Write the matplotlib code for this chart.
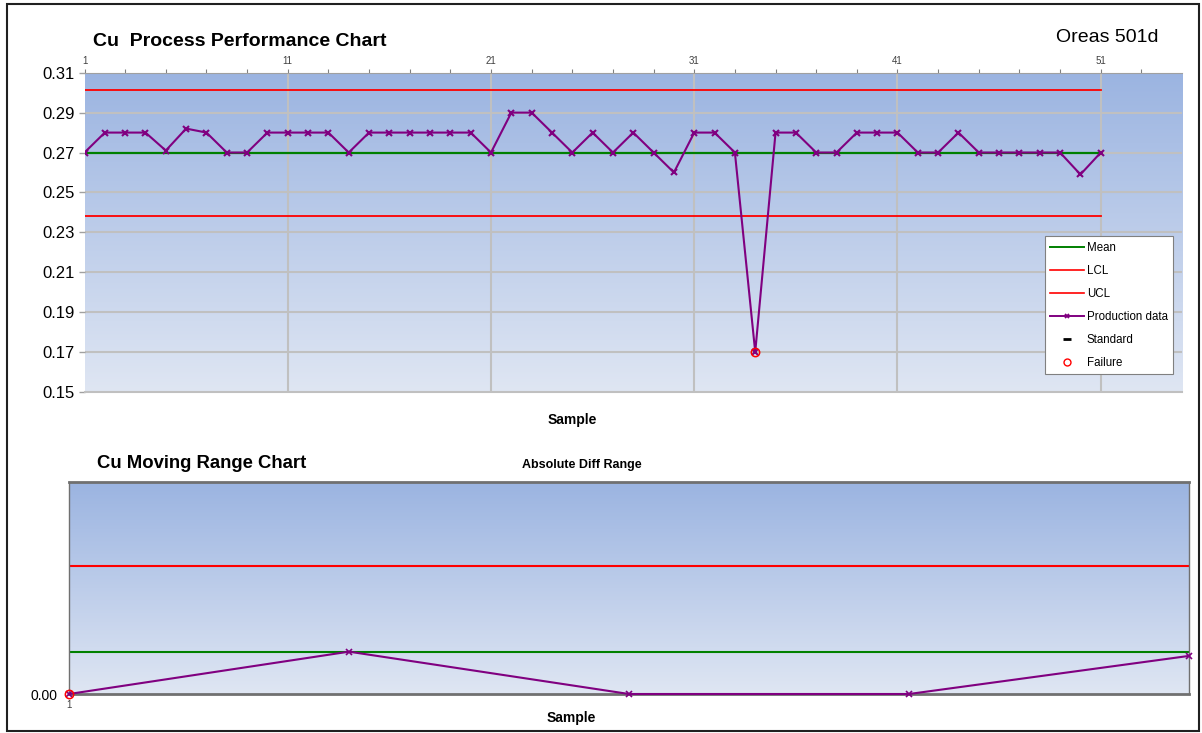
import numpy as np
import matplotlib
matplotlib.use('Agg')
from matplotlib import pyplot as plt
from matplotlib.lines import Line2D
from matplotlib.patches import Rectangle
from matplotlib.colors import LinearSegmentedColormap

plt.rcParams['font.family'] = ['Liberation Sans', 'DejaVu Sans']

# data
samples = np.arange(1, 52)
cu_values = [0.27, 0.28, 0.28, 0.28, 0.271, 0.282, 0.28, 0.27, 0.27, 0.28,
             0.28, 0.28, 0.28, 0.27, 0.28, 0.28, 0.28, 0.28, 0.28, 0.28,
             0.27, 0.29, 0.29, 0.28, 0.27, 0.28, 0.27, 0.28, 0.27, 0.26,
             0.28, 0.28, 0.27, 0.17, 0.28, 0.28, 0.27, 0.27, 0.28, 0.28,
             0.28, 0.27, 0.27, 0.28, 0.27, 0.27, 0.27, 0.27, 0.27, 0.259,
             0.27]
cu_mean = 0.2698
cu_ucl = 0.3012
cu_lcl = 0.2384

mr_samples = [1, 2, 3, 4, 5]
mr_values = [0.0, 0.01, 0.0, 0.0, 0.009]
mr_mean = 0.01
mr_ucl = 0.0302
mr_failures = [1]

top_tick_labels = ['1', '11', '21', '31', '41', '51']

cu_values = np.array(cu_values)
fail_mask = (cu_values < cu_lcl) | (cu_values > cu_ucl)

bg_cmap = LinearSegmentedColormap.from_list('bg', ['#DFE6F3', '#9BB4E1'])
grad = np.linspace(0, 1, 256).reshape(-1, 1)

PURPLE = '#800080'
GRID = '#C0C0C0'

fig = plt.figure(figsize=(12.02, 7.33), dpi=100)

# %% top chart
ax = fig.add_axes([0.0703, 0.4652, 0.9131, 0.4356])
ax.imshow(grad, cmap=bg_cmap, origin='lower', aspect='auto',
          extent=[0, 1, 0, 1], transform=ax.transAxes, zorder=0)
ax.set_xlim(1, 55)
ax.set_ylim(0.15, 0.31)

for yv in np.arange(0.17, 0.30, 0.02):
    ax.axhline(yv, color=GRID, lw=1.5, zorder=1)
for xv in [11, 21, 31, 41, 51]:
    ax.axvline(xv, color=GRID, lw=1.5, zorder=1)

ax.plot([1, 51], [cu_mean, cu_mean], color='#008000', lw=1.6, zorder=2)
ax.plot([1, 51], [cu_lcl, cu_lcl], color='#FF0000', lw=1.3, zorder=2)
ax.plot([1, 51], [cu_ucl, cu_ucl], color='#FF0000', lw=1.3, zorder=2)
ax.plot(samples, cu_values, color=PURPLE, lw=1.5, marker='x', ms=4.5, mew=1.5, zorder=3)
ax.plot(samples[fail_mask], cu_values[fail_mask], 'o', mfc='none', mec='#FF0000',
        ms=6, mew=1.1, zorder=4)

ax.xaxis.tick_top()
xt = np.arange(1, 54, 2)
ax.set_xticks(xt)
ax.set_xticklabels([str(t) if str(t) in top_tick_labels else '' for t in xt])
ax.tick_params(axis='x', direction='out', length=3, width=0.8, color='#808080',
               labelsize=7, labelcolor='#404040', pad=1.5)
ax.set_yticks(np.arange(0.15, 0.3101, 0.02))
ax.set_yticklabels([f'{v:.2f}' for v in np.arange(0.15, 0.3101, 0.02)])
ax.tick_params(axis='y', direction='out', length=4, width=1, color='#A0A0A0',
               labelsize=12, pad=3)
for s in ['left', 'right']:
    ax.spines[s].set_visible(False)
ax.spines['top'].set_color('#A0A0A0')
ax.spines['bottom'].set_color(GRID)
ax.spines['bottom'].set_linewidth(1.5)

handles = [
    Line2D([], [], color='#008000', lw=1.4),
    Line2D([], [], color='#FF0000', lw=1.2),
    Line2D([], [], color='#FF0000', lw=1.2),
    Line2D([], [], color=PURPLE, lw=1.4, marker='x', ms=3.5, mew=1.3),
    Line2D([], [], color='black', ls='none', marker='_', ms=6, mew=2),
    Line2D([], [], color='#FF0000', ls='none', marker='o', mfc='none', ms=5, mew=1),
]
labels = ['Mean', 'LCL', 'UCL', 'Production data', 'Standard', 'Failure']
leg = ax.legend(handles, labels, loc='lower right', bbox_to_anchor=(0.992, 0.055),
                fontsize=8.3, frameon=True, fancybox=False, framealpha=1,
                edgecolor='#808080', handlelength=2.9, handletextpad=0.25,
                labelspacing=0.96, borderpad=0.48, borderaxespad=0)
leg.get_frame().set_linewidth(0.8)

fig.text(93 / 1202, 1 - 41 / 733, 'Cu  Process Performance Chart', fontsize=14,
         fontweight='bold', va='center', ha='left')
fig.text(1158 / 1202, 1 - 37 / 733, 'Oreas 501d', fontsize=14, va='center', ha='right')
fig.text(572 / 1202, 1 - 420 / 733, 'Sample', fontsize=10, fontweight='bold',
         va='center', ha='center')

# %% moving range chart
ax2 = fig.add_axes([0.0574, 0.0532, 0.9318, 0.2888])
ax2.imshow(grad, cmap=bg_cmap, origin='lower', aspect='auto',
           extent=[0, 1, 0, 1], transform=ax2.transAxes, zorder=0)
ax2.set_xlim(1, 5)
ax2.set_ylim(0, 0.05)
ax2.axhline(mr_ucl, color='#FF0000', lw=1.5, zorder=2)
ax2.axhline(mr_mean, color='#008000', lw=1.5, zorder=2)
ax2.plot(mr_samples, mr_values, color=PURPLE, lw=1.5, marker='x', ms=4, mew=1.2,
         zorder=3, clip_on=False)
ax2.plot([mr_samples[i - 1] for i in mr_failures], [mr_values[i - 1] for i in mr_failures],
         'o', mfc='none', mec='#FF0000', ms=6, mew=1.1, zorder=4, clip_on=False)
ax2.set_xticks([1])
ax2.set_xticklabels(['1'])
ax2.set_yticks([0])
ax2.set_yticklabels(['0.00'])
ax2.tick_params(axis='x', length=0, labelsize=7, labelcolor='#404040', pad=4)
ax2.tick_params(axis='y', length=0, labelsize=10, pad=8)
for s in ['top', 'bottom']:
    ax2.spines[s].set_color('#707070')
    ax2.spines[s].set_linewidth(2)
for s in ['left', 'right']:
    ax2.spines[s].set_color('#707070')
    ax2.spines[s].set_linewidth(1)

fig.text(97 / 1202, 1 - 464 / 733, 'Cu Moving Range Chart', fontsize=13.3,
         fontweight='bold', va='center', ha='left')
fig.text(582 / 1202, 1 - 465 / 733, 'Absolute Diff Range', fontsize=9,
         fontweight='bold', va='center', ha='center')
fig.text(571 / 1202, 1 - 718 / 733, 'Sample', fontsize=10, fontweight='bold',
         va='center', ha='center')

# outer frame
fig.add_artist(Rectangle((7 / 1202, 2 / 733), 1192 / 1202, 727 / 733, transform=fig.transFigure,
                         fill=False, edgecolor='#202020', lw=1.5))

plt.savefig('out.png', dpi=100)
